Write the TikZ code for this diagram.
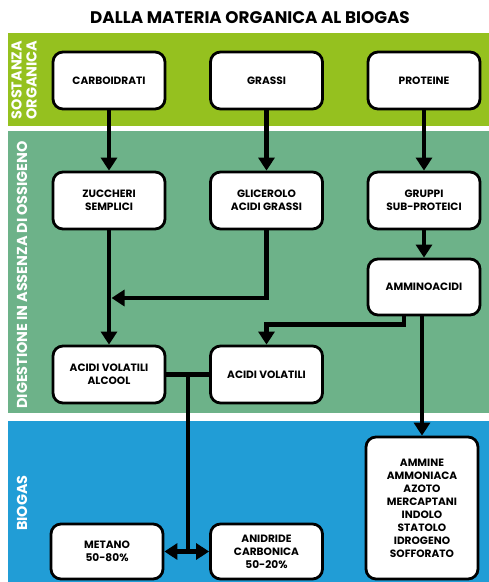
\documentclass[tikz,border=0pt]{standalone}
\usepackage{fontspec}
\setmainfont{Poppins}
\usetikzlibrary{arrows.meta,calc}
\definecolor{bandlime}{RGB}{149,193,31}
\definecolor{bandgreen}{RGB}{109,178,137}
\definecolor{bandblue}{RGB}{33,157,214}

\begin{document}
\begin{tikzpicture}
[x=1pt,y=-1pt,
stage/.style={
	rectangle,
        draw,
        fill=white,
        line width=2.8pt,
        rounded corners=10pt,
        minimum width=112pt,
        minimum height=57pt,
        align=center,
        font=\fontsize{10.6}{13}\selectfont\bfseries,
    },
flow/.style={line width=4.5pt, -{Triangle[width=16pt,length=13pt]}},
gasflow/.style={line width=4.5pt, {Triangle[width=16pt,length=13pt]}-{Triangle[width=16pt,length=13pt]}},
pipe/.style={line width=4.5pt},
bandlabel/.style={rotate=90, text=white, align=center, font=\fontsize{14.4}{15}\selectfont\bfseries},
]
\useasboundingbox (0,0) rectangle (489,582);

% draw the bands
\fill[bandlime] (8,33) rectangle (489,126);
\fill[bandgreen] (8,131) rectangle (489,413);
\fill[bandblue] (8,421) rectangle (489,582);

\node[font=\fontsize{16.8}{18}\selectfont\bfseries] (title) at (250,18) {DALLA MATERIA ORGANICA AL BIOGAS};
\node[bandlabel] (lbsost) at (24,80) {SOSTANZA\\ORGANICA};
\node[bandlabel] (lbdige) at (22,275) {DIGESTIONE IN ASSENZA DI OSSIGENO};
\node[bandlabel] (lbbiogas) at (22,503) {BIOGAS};

% draw the boxes
\node[stage] (carb) at (109,80.5) {CARBOIDRATI};
\node[stage] (grassi) at (266.5,80.5) {GRASSI};
\node[stage] (prot) at (424,80.5) {PROTEINE};
\node[stage] (zucc) at (109,200.5) {ZUCCHERI\\SEMPLICI};
\node[stage] (glic) at (266.5,200.5) {GLICEROLO\\ACIDI GRASSI};
\node[stage] (grup) at (424,200.5) {GRUPPI\\SUB-PROTEICI};
\node[stage, minimum height=56pt] (amino) at (424,287) {AMMINOACIDI};
\node[stage] (acal) at (109,374.5) {ACIDI VOLATILI\\ALCOOL};
\node[stage] (acvol) at (266.5,374.5) {ACIDI VOLATILI};
\node[stage, minimum height=55pt] (metano) at (107,551.5) {METANO\\50-80\%};
\node[stage, minimum height=55pt] (anid) at (266.5,551.5) {ANIDRIDE\\CARBONICA\\50-20\%};
\node[stage, minimum height=142pt] (ammine) at (422,508) {AMMINE\\AMMONIACA\\AZOTO\\MERCAPTANI\\INDOLO\\STATOLO\\IDROGENO\\SOFFORATO};

\coordinate (fatjoin) at (111.5,298);
\coordinate (gasjoin) at ($(acal.east)!0.5!(acvol.west)$);

%draw lines
\draw[flow] (carb) -- (zucc);
\draw[flow] (grassi) -- (glic);
\draw[flow] (prot) -- (grup);
\draw[flow] (zucc) -- (acal);
\draw[flow] (glic.south) |- (fatjoin);
\draw[flow] (grup) -- (amino);
\draw[flow] ([xshift=-20pt]amino.south) -- ++(0,8) -| (acvol.north);
\draw[flow] (amino.south -| ammine.north) -- (ammine.north);
\draw[pipe] (acal.east) -- (acvol.west);
\draw[pipe] (gasjoin) -- (gasjoin |- metano.east);
\draw[gasflow] (metano.east) -- (anid.west);
\end{tikzpicture}
\end{document}
